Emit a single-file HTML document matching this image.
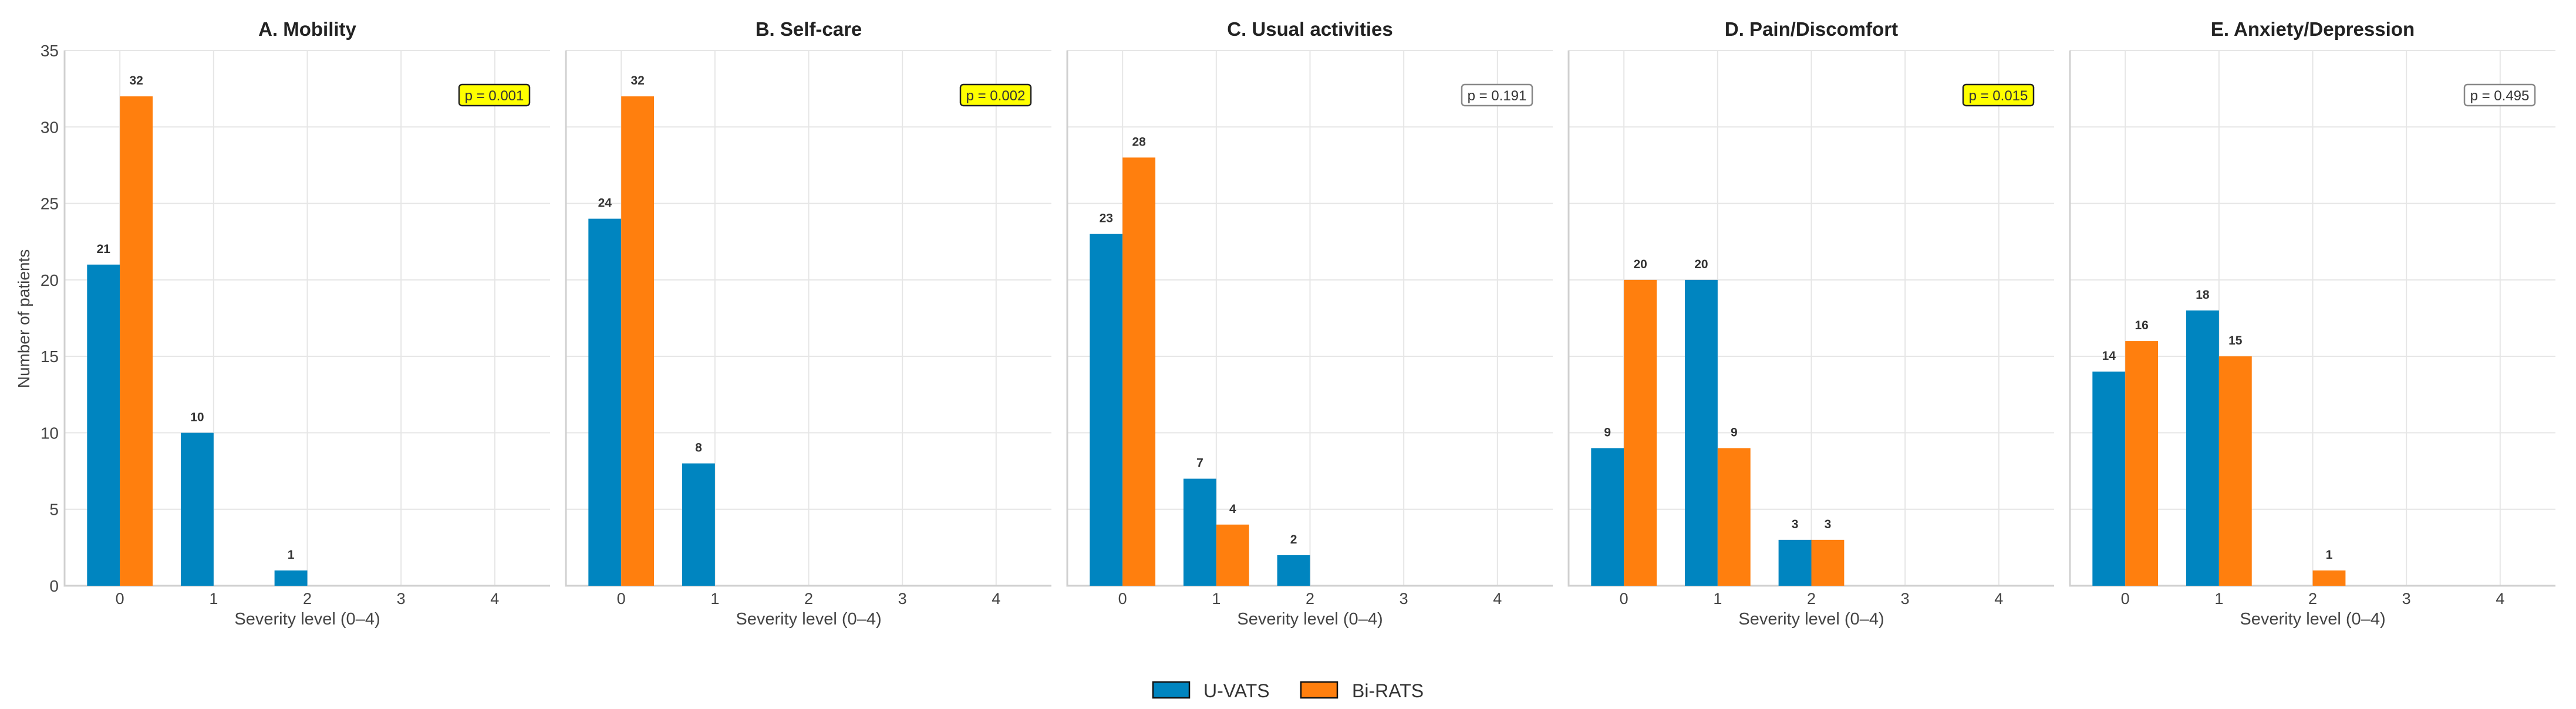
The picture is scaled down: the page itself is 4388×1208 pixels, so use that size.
<!DOCTYPE html>
<html><head><meta charset="utf-8"><style>
html,body{margin:0;padding:0;background:#fff;}
svg{display:block;font-family:"Liberation Sans",Arial,sans-serif;}
</style></head><body>
<svg id="chart" width="4388" height="1208" viewBox="0 0 4388 1208" xmlns="http://www.w3.org/2000/svg">
<g id="panels"></g>
<g>
  <g>
    <rect x="1964" y="1162" width="62" height="27" fill="#0085c0" stroke="#111" stroke-width="2.5"/>
    <text x="2050" y="1188" font-size="32" fill="#333">U-VATS</text>
  </g>
  <g>
    <rect x="2216" y="1162" width="62" height="27" fill="#ff7f0e" stroke="#111" stroke-width="2.5"/>
    <text x="2303" y="1188" font-size="32" fill="#333">Bi-RATS</text>
  </g>
</g>
</svg>
<script>
const titles = ["A. Mobility","B. Self-care","C. Usual activities","D. Pain/Discomfort","E. Anxiety/Depression"];
const categories = [0,1,2,3,4];
const uvats = [[21,10,1,0,0],[24,8,0,0,0],[23,7,2,0,0],[9,20,3,0,0],[14,18,0,0,0]];
const birats = [[32,0,0,0,0],[32,0,0,0,0],[28,4,0,0,0],[20,9,3,0,0],[16,15,1,0,0]];
const pvalues = ["p = 0.001","p = 0.002","p = 0.191","p = 0.015","p = 0.495"];
const significant = [true,true,false,true,false];
const yTicks = [0,5,10,15,20,25,30,35];

const NS = "http://www.w3.org/2000/svg";
const root = document.getElementById('panels');
const PW = 827, TOP = 86, BOT = 998, YMAX = 35, XMIN = -0.59, XMAX = 4.59, BW = 0.35;
function mk(tag, attrs, parent, txt){const e=document.createElementNS(NS,tag);for(const k in attrs)e.setAttribute(k,attrs[k]);if(txt!==undefined)e.textContent=txt;parent.appendChild(e);return e;}
function yS(v){return BOT-(v/YMAX)*(BOT-TOP);}

titles.forEach((t,pi)=>{
  const L = 110 + pi*854, R = L+PW;
  const xS = v => L + (v-XMIN)/(XMAX-XMIN)*PW;
  const g = mk('g',{},root);
  
  
  // grid
  yTicks.forEach(v=>{
    const l = mk('line',{x1:L,x2:R,y1:yS(v),y2:yS(v),stroke:'#e6e6e6','stroke-width':2},g);
    
    
  });
  categories.forEach(c=>{
    const l = mk('line',{x1:xS(c),x2:xS(c),y1:TOP,y2:BOT,stroke:'#e6e6e6','stroke-width':2},g);
    
    
  });
  // axes
  const ax = mk('path',{d:`M${L},${TOP} V${BOT} H${R}`,fill:'none',stroke:'#d0d0d0','stroke-width':3},g);
  
  
  // title
  const tt = mk('text',{x:(L+R)/2,y:61,'text-anchor':'middle','font-size':33,'font-weight':'bold',fill:'#222'},g,t);
  
  
  // bars
  categories.forEach((c,ci)=>{
    [[uvats[pi][ci],-1,'#0085c0','bar-u-vats'],[birats[pi][ci],0,'#ff7f0e','bar-bi-rats']].forEach(([v,off,col,nm])=>{
      if(v<=0) return;
      const x0 = xS(c+off*BW), x1 = xS(c+(off+1)*BW);
      const r = mk('rect',{x:x0,y:yS(v),width:x1-x0,height:BOT-yS(v),fill:col},g);
      
      
      const lb = mk('text',{x:(x0+x1)/2,y:yS(v)-20,'text-anchor':'middle','font-size':21,'font-weight':'bold',fill:'#333'},g,String(v));
      
      
    });
    const xl = mk('text',{x:xS(c),y:1029,'text-anchor':'middle','font-size':27,fill:'#444'},g,String(c));
    
    
  });
  const xt = mk('text',{x:(L+R)/2,y:1064,'text-anchor':'middle','font-size':29,fill:'#444'},g,'Severity level (0–4)');
  
  
  if(pi===0){
    yTicks.forEach(v=>{
      const yl = mk('text',{x:100,y:yS(v)+10,'text-anchor':'end','font-size':28,fill:'#444'},g,String(v));
      
      
    });
    const yt = mk('text',{x:50,y:543,'text-anchor':'middle','font-size':28,fill:'#444',transform:'rotate(-90 50 543)'},g,'Number of patients');
    
    
  }
  // p-value box
  const bx = R-35-120;
  const pb = mk('rect',{x:bx,y:144,width:120,height:36,rx:5,fill:significant[pi]?'#ffff00':'#fff',stroke:significant[pi]?'#222':'#888','stroke-width':2.5},g);
  
  
  const pt = mk('text',{x:bx+60,y:171,'text-anchor':'middle','font-size':24,fill:'#333'},g,pvalues[pi]);
  
  
});
</script>
</body></html>
